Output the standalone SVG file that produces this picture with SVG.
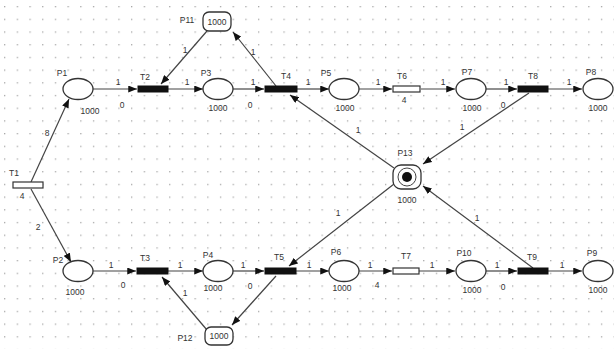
<svg xmlns="http://www.w3.org/2000/svg" width="614" height="349" viewBox="0 0 614 349">
<style>
.place{fill:#fff;stroke:#333;stroke-width:1.3}
.tbar{fill:#111;stroke:#111;stroke-width:1}
.thol{fill:#fff;stroke:#333;stroke-width:1.2}
.arc{fill:none;stroke:#444;stroke-width:1.2;marker-end:url(#ah)}
text{font-family:"Liberation Sans",Arial,sans-serif;font-size:8.5px;fill:#333;text-anchor:middle}
</style>
<defs>
<pattern id="grid" x="4" y="6" width="12.7" height="12.7" patternUnits="userSpaceOnUse">
<rect x="0" y="0" width="1.3" height="1.3" fill="#a8a8a8"/>
</pattern>
<marker id="ah" viewBox="0 0 10 8" refX="10" refY="4" markerWidth="9" markerHeight="7" markerUnits="userSpaceOnUse" orient="auto">
<path d="M0,0 L10,4 L0,8 z" fill="#111"/>
</marker>
</defs>
<rect width="614" height="349" fill="#fff"/>
<rect width="614" height="349" fill="url(#grid)"/>

<g id="connectors">
<line class="arc" x1="93" y1="89" x2="137" y2="89"/>
<line class="arc" x1="168" y1="89" x2="203" y2="89"/>
<line class="arc" x1="233" y1="89" x2="264" y2="89"/>
<line class="arc" x1="297" y1="89" x2="329" y2="89"/>
<line class="arc" x1="359" y1="89" x2="392" y2="89"/>
<line class="arc" x1="421" y1="89" x2="455" y2="89"/>
<line class="arc" x1="486" y1="89" x2="517" y2="89"/>
<line class="arc" x1="548" y1="89" x2="582" y2="89"/>

<line class="arc" x1="93" y1="271" x2="136" y2="271"/>
<line class="arc" x1="168" y1="271" x2="203" y2="271"/>
<line class="arc" x1="233" y1="271" x2="264" y2="271"/>
<line class="arc" x1="296" y1="271" x2="329" y2="271"/>
<line class="arc" x1="359" y1="271" x2="392" y2="271"/>
<line class="arc" x1="419" y1="271" x2="455" y2="271"/>
<line class="arc" x1="486" y1="271" x2="517" y2="271"/>
<line class="arc" x1="548" y1="271" x2="582" y2="271"/>

<line class="arc" x1="31" y1="182" x2="69" y2="99"/>
<line class="arc" x1="31" y1="189" x2="71" y2="262"/>

<line class="arc" x1="207" y1="31" x2="161" y2="84"/>
<line class="arc" x1="276" y1="86" x2="233" y2="32"/>
<line class="arc" x1="394" y1="168" x2="290" y2="95"/>
<line class="arc" x1="529" y1="93" x2="423" y2="164"/>
<line class="arc" x1="533" y1="268" x2="423" y2="186"/>
<line class="arc" x1="394" y1="184" x2="289" y2="266"/>
<line class="arc" x1="207" y1="330" x2="162" y2="277"/>
<line class="arc" x1="276" y1="276" x2="232" y2="325"/>
</g>

<g id="T1"><rect class="thol" x="13" y="182" width="30" height="6"/><text x="14" y="176">T1</text><text x="22" y="199">4</text></g>
<g id="P1"><ellipse class="place" cx="78" cy="89" rx="15" ry="10.5"/><text x="62" y="76">P1</text><text x="90" y="114">1000</text></g>
<g id="P2"><ellipse class="place" cx="78" cy="271" rx="15" ry="10.5"/><text x="58" y="263">P2</text><text x="75" y="295">1000</text></g>
<g id="T2"><rect class="tbar" x="138" y="86" width="30" height="6"/><text x="145" y="80">T2</text></g>
<g id="T3"><rect class="tbar" x="137" y="268" width="31" height="6"/><text x="145" y="261">T3</text></g>
<g id="P3"><ellipse class="place" cx="218" cy="89" rx="15" ry="10.5"/><text x="206" y="76">P3</text><text x="218" y="111">1000</text></g>
<g id="P4"><ellipse class="place" cx="218" cy="271" rx="15" ry="10.5"/><text x="208" y="258">P4</text><text x="213" y="291">1000</text></g>
<g id="P11"><rect class="place" x="203" y="12" width="28" height="19" rx="6"/><text x="217" y="25">1000</text><text x="187" y="23">P11</text></g>
<g id="P12"><rect class="place" x="205" y="327" width="28" height="18" rx="6"/><text x="219" y="339">1000</text><text x="185" y="341">P12</text></g>
<g id="T4"><rect class="tbar" x="265" y="86" width="32" height="6"/><text x="286" y="79">T4</text></g>
<g id="T5"><rect class="tbar" x="265" y="268" width="31" height="6"/><text x="279" y="260">T5</text></g>
<g id="P5"><ellipse class="place" cx="344" cy="89" rx="15" ry="10.5"/><text x="326" y="76">P5</text><text x="345" y="111">1000</text></g>
<g id="P6"><ellipse class="place" cx="344" cy="271" rx="15" ry="10.5"/><text x="336" y="255">P6</text><text x="342" y="291">1000</text></g>
<g id="T6"><rect class="thol" x="393" y="86" width="27" height="6"/><text x="402" y="79">T6</text><text x="404" y="103">4</text></g>
<g id="T7"><rect class="thol" x="393" y="268" width="26" height="6"/><text x="406" y="259">T7</text><text x="377" y="288">4</text></g>
<g id="P13"><rect class="place" x="393" y="165" width="28" height="24" rx="8"/><circle cx="407" cy="177" r="9" fill="none" stroke="#444" stroke-width="1"/><circle cx="407" cy="177" r="5" fill="#111"/><text x="405" y="156">P13</text><text x="407" y="203">1000</text></g>
<g id="P7"><ellipse class="place" cx="471" cy="89" rx="15" ry="10.5"/><text x="467" y="75">P7</text><text x="472" y="111">1000</text></g>
<g id="P10"><ellipse class="place" cx="471" cy="271" rx="15" ry="10.5"/><text x="464" y="256">P10</text><text x="472" y="293">1000</text></g>
<g id="T8"><rect class="tbar" x="518" y="86" width="30" height="6"/><text x="533" y="79">T8</text></g>
<g id="T9"><rect class="tbar" x="518" y="268" width="30" height="6"/><text x="532" y="260">T9</text></g>
<g id="P8"><ellipse class="place" cx="598" cy="89" rx="15" ry="10.5"/><text x="591" y="75">P8</text><text x="598" y="111">1000</text></g>
<g id="P9"><ellipse class="place" cx="598" cy="271" rx="15" ry="10.5"/><text x="592" y="256">P9</text><text x="598" y="293">1000</text></g>

<g id="arc-labels">
<text x="118" y="85">1</text><text x="122" y="108">0</text>
<text x="187" y="85">1</text>
<text x="253" y="85">1</text><text x="250" y="108">0</text>
<text x="308" y="85">1</text>
<text x="378" y="85">1</text>
<text x="443" y="85">1</text>
<text x="506" y="85">1</text><text x="503" y="108">0</text>
<text x="569" y="85">1</text>

<text x="111" y="268">1</text><text x="123" y="288">0</text>
<text x="180" y="268">1</text>
<text x="243" y="268">1</text><text x="250" y="289">0</text>
<text x="309" y="268">1</text>
<text x="370" y="268">1</text>
<text x="432" y="268">1</text>
<text x="497" y="268">1</text><text x="503" y="290">0</text>
<text x="562" y="268">1</text>

<text x="47" y="136">8</text>
<text x="38" y="230">2</text>
<text x="185" y="53">1</text>
<text x="253" y="55">1</text>
<text x="358" y="133">1</text>
<text x="462" y="130">1</text>
<text x="477" y="221">1</text>
<text x="338" y="216">1</text>
<text x="185" y="296">1</text>
</g>
</svg>
